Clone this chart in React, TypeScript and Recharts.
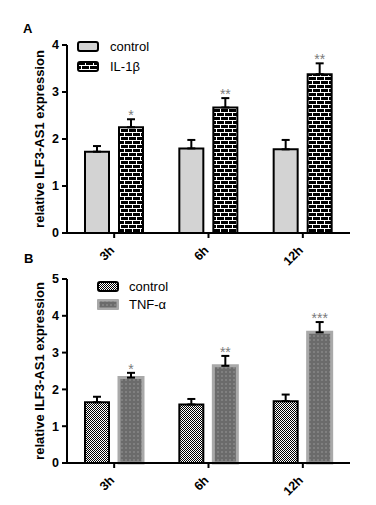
import { BarChart, Bar, XAxis, YAxis, ErrorBar, Legend, LabelList, Label } from 'recharts';

const FONT = 'Arial, "Liberation Sans", sans-serif';

const times = ['3h', '6h', '12h'];

// panel A: IL-1β
const ctrlA = [1.73, 1.8, 1.78];
const ctrlAErr = [0.12, 0.18, 0.2];
const il1b = [2.25, 2.67, 3.38];
const il1bErr = [0.17, 0.2, 0.23];
const sigA = ['*', '**', '**'];

// panel B: TNF-α
const ctrlB = [1.65, 1.59, 1.68];
const ctrlBErr = [0.15, 0.15, 0.18];
const tnf = [2.32, 2.64, 3.55];
const tnfErr = [0.13, 0.27, 0.28];
const sigB = ['*', '**', '***'];

const dataA = times.map((t, i) => ({
  time: t,
  ctrl: ctrlA[i],
  ctrlErr: [0, ctrlAErr[i]],
  trt: il1b[i],
  trtErr: [0, il1bErr[i]],
  up: il1bErr[i],
  sig: sigA[i],
}));

const dataB = times.map((t, i) => ({
  time: t,
  ctrl: ctrlB[i],
  ctrlErr: [0, ctrlBErr[i]],
  trt: tnf[i],
  trtErr: [0, tnfErr[i]],
  up: tnfErr[i],
  sig: sigB[i],
}));

const tickStyle = { fontSize: 12.5, fontWeight: 'bold', fill: '#000', fontFamily: FONT };
const axisStroke = { stroke: '#000', strokeWidth: 2 };

function TimeTick(p: any) {
  const x = p.x + 1;
  const y = p.y + 11;
  return (
    <text x={x} y={y} transform={`rotate(-45, ${x}, ${y})`} textAnchor="end" {...tickStyle}>
      {p.payload.value}
    </text>
  );
}

// star above the error bar, from the bar's own geometry
function starLabel(data: any[]) {
  return (p: any) => {
    const row = data[p.index];
    if (!row) return null;
    const perUnit = p.height / row.trt;
    const top = p.y - row.up * perUnit;
    return (
      <text x={p.x + p.width / 2} y={top + 1} textAnchor="middle" fontSize={14} fill="#7a7a7a" fontFamily={FONT}>
        {p.value}
      </text>
    );
  };
}

function LegendBox({ items, rowH, textGap }: { items: { label: string; fill: string; stroke: string; sw: number }[]; rowH: number; textGap: number }) {
  return (
    <div style={{ fontFamily: FONT, fontSize: 13, color: '#000' }}>
      {items.map((it) => (
        <div key={it.label} style={{ display: 'flex', alignItems: 'center', height: rowH }}>
          <svg width={22} height={11} style={{ display: 'block' }}>
            <rect x={1} y={1} width={20} height={9} rx={2} fill={it.fill} stroke={it.stroke} strokeWidth={it.sw} />
          </svg>
          <span style={{ marginLeft: textGap, lineHeight: 1 }}>{it.label}</span>
        </div>
      ))}
    </div>
  );
}

function Patterns() {
  return (
    <defs>
      <pattern id="brickA" width={8} height={8} patternUnits="userSpaceOnUse">
        <rect width={8} height={8} fill="#000" />
        <path d="M0 0.5H8 M0 4.5H8 M0.5 0V4 M4.5 4V8" stroke="#fff" strokeWidth={1} />
      </pattern>
      <pattern id="checkB" width={2} height={2} patternUnits="userSpaceOnUse">
        <rect width={2} height={2} fill="#fff" />
        <rect width={1} height={1} fill="#000" />
        <rect x={1} y={1} width={1} height={1} fill="#000" />
      </pattern>
      <pattern id="dotB" width={4} height={4} patternUnits="userSpaceOnUse">
        <rect width={4} height={4} fill="#6b6b6b" />
        <circle cx={2} cy={2} r={0.8} fill="#9a9a9a" />
      </pattern>
    </defs>
  );
}

function Panel({
  data,
  height,
  top,
  plotH,
  ticks,
  legendTop,
  legendLeft,
  rowH,
  textGap,
  ctrlFill,
  trtFill,
  trtStroke,
  trtSw,
  names,
  withDefs,
}: any) {
  return (
    <BarChart
      width={376}
      height={height}
      data={data}
      margin={{ top, right: 26, left: 30, bottom: height - top - plotH - 30 }}
      barSize={24}
      barGap={10}
    >
      {withDefs && <Patterns />}
      <XAxis dataKey="time" height={30} axisLine={axisStroke} tickLine={axisStroke} tickSize={5} tickMargin={2} tick={<TimeTick />} interval={0} />
      <YAxis
        domain={[0, ticks[ticks.length - 1]]}
        ticks={ticks}
        width={37}
        axisLine={axisStroke}
        tickLine={axisStroke}
        tickSize={5}
        tickMargin={3}
        tick={tickStyle}
        interval={0}
      >
        <Label
          value="relative ILF3-AS1 expression"
          angle={-90}
          position="insideLeft"
          offset={9}
          style={{ textAnchor: 'middle', fontWeight: 'bold', fontSize: 13, fill: '#000', fontFamily: FONT }}
        />
      </YAxis>
      <Legend
        layout="vertical"
        align="center"
        verticalAlign="middle"
        wrapperStyle={{ position: 'absolute', top: legendTop, left: legendLeft, width: 'auto', height: 'auto' }}
        content={() => (
          <LegendBox
            rowH={rowH}
            textGap={textGap}
            items={[
              { label: names[0], fill: ctrlFill, stroke: '#000', sw: 2 },
              { label: names[1], fill: trtFill, stroke: trtStroke, sw: trtSw },
            ]}
          />
        )}
      />
      <Bar dataKey="ctrl" name={names[0]} fill={ctrlFill} stroke="#000" strokeWidth={2} isAnimationActive={false}>
        <ErrorBar dataKey="ctrlErr" direction="y" width={4} stroke="#000" strokeWidth={2} />
      </Bar>
      <Bar dataKey="trt" name={names[1]} fill={trtFill} stroke={trtStroke} strokeWidth={trtSw} isAnimationActive={false}>
        <ErrorBar dataKey="trtErr" direction="y" width={4} stroke="#000" strokeWidth={2} />
        <LabelList dataKey="sig" content={starLabel(data)} />
      </Bar>
    </BarChart>
  );
}

export default function App() {
  return (
    <div style={{ position: 'relative', width: 376, height: 505, margin: '-8px 0 0 -8px', background: '#fff', fontFamily: FONT }}>
      <div style={{ position: 'absolute', left: 0, top: 0 }}>
        <Panel
          data={dataA}
          height={285}
          top={45}
          plotH={188}
          ticks={[0, 1, 2, 3, 4]}
          legendTop={36.5}
          legendLeft={77}
          rowH={20}
          textGap={11}
          ctrlFill="#d3d3d3"
          trtFill="url(#brickA)"
          trtStroke="#000"
          trtSw={2}
          names={['control', 'IL-1β']}
          withDefs
        />
      </div>
      <div style={{ position: 'absolute', left: 0, top: 250 }}>
        <Panel
          data={dataB}
          height={255}
          top={29}
          plotH={184}
          ticks={[0, 1, 2, 3, 4, 5]}
          legendTop={27}
          legendLeft={97}
          rowH={18}
          textGap={10}
          ctrlFill="url(#checkB)"
          trtFill="url(#dotB)"
          trtStroke="#a9a9a9"
          trtSw={3}
          names={['control', 'TNF-α']}
        />
      </div>
      <div style={{ position: 'absolute', left: 23, top: 21, fontSize: 13, fontWeight: 'bold' }}>A</div>
      <div style={{ position: 'absolute', left: 24, top: 251, fontSize: 13, fontWeight: 'bold' }}>B</div>
    </div>
  );
}
